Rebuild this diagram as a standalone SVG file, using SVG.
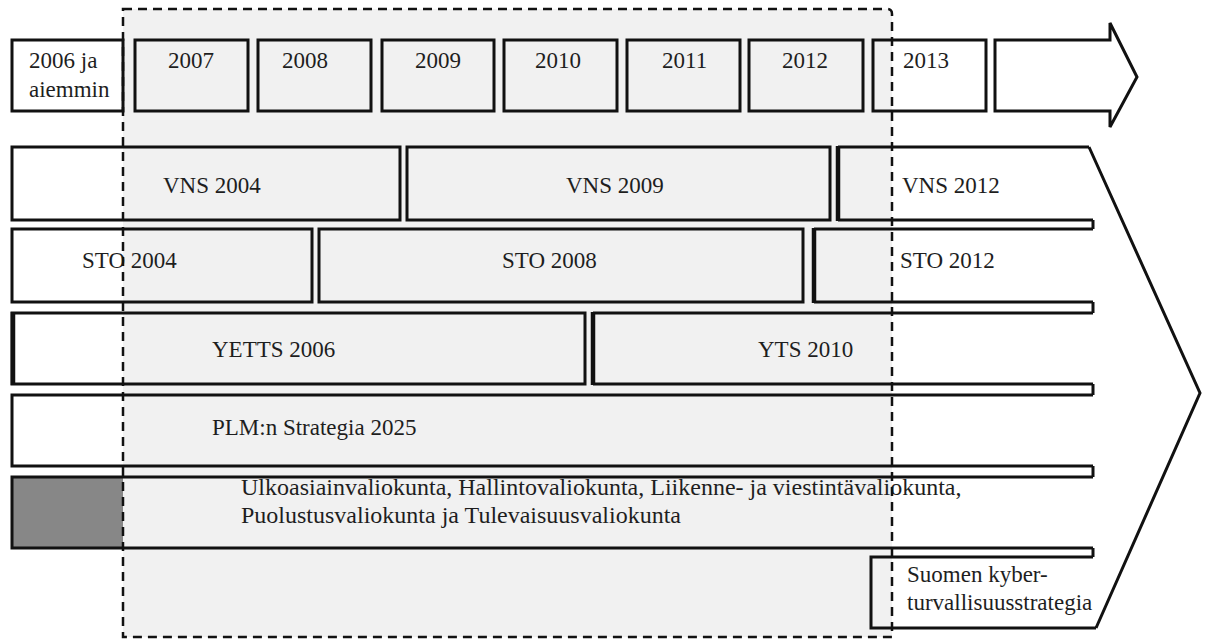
<svg xmlns="http://www.w3.org/2000/svg" width="1209" height="641" viewBox="0 0 1209 641">
<style>
.bx{fill:none;stroke:#111;stroke-width:3}
.thk{fill:none;stroke:#111;stroke-width:4.5}
.t{font-family:'Liberation Serif','DejaVu Serif',serif;font-size:23px;fill:#1e1e1e}
.dash{fill:none;stroke:#111;stroke-width:2.5;stroke-dasharray:9 6}
</style>
<rect x="0" y="0" width="1209" height="641" fill="#ffffff"/>
<path d="M123,9 H887 Q892,9 892,14 V637 H123 Z" fill="#f1f1f1"/>

<g id="timeline" font-family="Liberation Serif, DejaVu Serif, serif">
  <g id="y2006"><rect class="bx" x="12" y="40" width="111" height="71" fill="#fff"/>
    <text class="t" x="29" y="68">2006 ja</text><text class="t" x="29" y="97">aiemmin</text></g>
  <g id="y2007"><rect class="bx" x="135" y="40" width="113" height="71"/><text class="t" x="168" y="68">2007</text></g>
  <g id="y2008"><rect class="bx" x="258" y="40" width="113" height="71"/><text class="t" x="282" y="68">2008</text></g>
  <g id="y2009"><rect class="bx" x="382" y="40" width="112" height="71"/><text class="t" x="415" y="68">2009</text></g>
  <g id="y2010"><rect class="bx" x="504" y="40" width="113" height="71"/><text class="t" x="535" y="68">2010</text></g>
  <g id="y2011"><rect class="bx" x="627" y="40" width="113" height="71"/><text class="t" x="662" y="68">2011</text></g>
  <g id="y2012"><rect class="bx" x="749" y="40" width="114" height="71"/><text class="t" x="782" y="68">2012</text></g>
  <g id="y2013"><path d="M892,40 H986 V111 H892 Z" fill="#fff"/><rect class="bx" x="873" y="40" width="113" height="71"/><text class="t" x="903" y="68">2013</text></g>
  <g id="future-arrow"><path class="bx" fill="#fff" d="M995,40 H1110 V23 L1137,77 L1110,127 V111 H995 Z"/></g>
</g>

<g id="chevron">
  <path d="M892,147 H1089 L1200,393 L1096,628 H892 Z" fill="#fff"/>
  <path class="bx" d="M1089,147 L1200,393 L1096,628"/>
  <path class="bx" d="M1093,220 V229 M1093,302 V313 M1093,384 V395 M1093,466 V477 M1093,548 V557"/>
</g>

<g font-family="Liberation Serif, DejaVu Serif, serif">
<g id="vns2004"><rect class="bx" x="12" y="147" width="388" height="73"/><text class="t" x="163" y="193">VNS 2004</text></g>
<g id="vns2009"><rect class="bx" x="407" y="147" width="423" height="73"/><text class="t" x="566" y="193">VNS 2009</text></g>
<g id="vns2012"><path class="bx" d="M1089,147 H838 M838,220 H1093"/><path class="thk" d="M838,146 V221"/><text class="t" x="902" y="193">VNS 2012</text></g>

<g id="sto2004"><rect class="bx" x="12" y="229" width="300" height="73"/><text class="t" x="82" y="268">STO 2004</text></g>
<g id="sto2008"><rect class="bx" x="319" y="229" width="484" height="73"/><text class="t" x="502" y="268">STO 2008</text></g>
<g id="sto2012"><path class="bx" d="M1093,229 H814 M814,302 H1093"/><path class="thk" d="M814,228 V303"/><text class="t" x="900" y="268">STO 2012</text></g>

<g id="yetts2006"><rect class="bx" x="12" y="313" width="573" height="71"/><path class="thk" d="M13,312 V385"/><text class="t" x="212" y="357">YETTS 2006</text></g>
<g id="yts2010"><path class="bx" d="M1093,313 H593 M593,384 H1093"/><path class="thk" d="M593,312 V385"/><text class="t" x="758" y="357">YTS 2010</text></g>

<g id="plm2025"><path class="bx" d="M1093,395 H12 V466 H1093"/><text class="t" x="212" y="435">PLM:n Strategia 2025</text></g>

<g id="valiokunnat"><rect x="13" y="478" width="110" height="69" fill="#878787"/><path class="bx" d="M1093,477 H12 V548 H1093"/>
  <text class="t" x="241" y="495" style="font-size:24px">Ulkoasiainvaliokunta, Hallintovaliokunta, Liikenne- ja viestintävaliokunta,</text>
  <text class="t" x="241" y="523" style="font-size:24px">Puolustusvaliokunta ja Tulevaisuusvaliokunta</text></g>

<g id="kyberstrategia"><path class="bx" d="M1093,557 H871 V628 H1096"/>
  <text class="t" x="907" y="582">Suomen kyber-</text><text class="t" x="907" y="610">turvallisuusstrategia</text></g>
</g>

<g id="connectors"></g>

<g id="focus-period"><path class="dash" d="M123,9 H887 Q892,9 892,14 V637 H123 Z"/></g>
</svg>
